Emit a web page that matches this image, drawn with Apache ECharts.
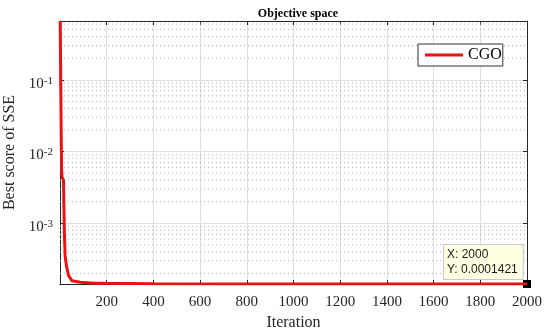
<!DOCTYPE html>
<html>
<head>
<meta charset="utf-8">
<script src="https://cdn.jsdelivr.net/npm/echarts@6/dist/echarts.min.js"></script>
<style>html,body{margin:0;padding:0;background:#fff}#c{width:550px;height:331px}</style>
</head>
<body>
<div id="c"></div>
<script>
// Data (iteration, best score)
const iterations = [1, 2, 3, 4, 5, 6, 7, 9, 14, 15, 17, 19, 22, 28, 37, 51, 87, 150, 201, 400, 800, 2000];
const bestScore = [0.66, 0.25, 0.09, 0.05, 0.02, 0.01, 0.0055, 0.0043, 0.0041, 0.0040, 0.0015, 0.0007, 0.00035, 0.00025, 0.000185, 0.000158, 0.000150, 0.000146, 0.000145, 0.0001430, 0.0001422, 0.0001421];
const seriesName = 'CGO';
const xTicks = [200, 400, 600, 800, 1000, 1200, 1400, 1600, 1800, 2000];
const yMinorValues = [2e-4,3e-4,4e-4,5e-4,6e-4,7e-4,8e-4,9e-4,
  2e-3,3e-3,4e-3,5e-3,6e-3,7e-3,8e-3,9e-3,
  2e-2,3e-2,4e-2,5e-2,6e-2,7e-2,8e-2,9e-2,
  2e-1,3e-1,4e-1,5e-1,6e-1];
const xMin = 0, xMax = 2000;
const yMin = 0.0001421, yMax = 0.66;
const tipX = 2000, tipY = 0.0001421;

const serif = 'Liberation Serif, Times New Roman, serif';
const axisColor = '#262626';
const chart = echarts.init(document.getElementById('c'));
const data = iterations.map((x, i) => [x, bestScore[i]]);

function powLabel(v) {
  const e = Math.log10(v);
  if (Math.abs(e - Math.round(e)) > 1e-6) return '';
  return '{b|10}{s|' + Math.round(e) + '}';
}

const minorSeries = yMinorValues.map(v => ({
  type: 'line', silent: true, symbol: 'none', z: 1,
  data: [[xMin, v], [xMax, v]],
  lineStyle: { type: [1, 3], color: '#b4b4b4', width: 1 },
  emphasis: { disabled: true }
}));

chart.setOption({
  animation: false,
  backgroundColor: '#fff',
  title: {
    text: 'Objective space',
    left: 293, top: 3, textAlign: 'center',
    textStyle: { fontFamily: serif, fontWeight: 'bold', fontSize: 12, color: '#000' }
  },
  legend: {
    left: 418, top: 44,
    padding: [3, 1, 3, 7],
    itemWidth: 38, itemHeight: 3, icon: 'rect',
    backgroundColor: '#fff',
    borderColor: '#333', borderWidth: 1,
    textStyle: { fontFamily: serif, fontSize: 16, color: '#000' },
    data: [seriesName]
  },
  grid: { left: 60, right: 23, top: 21, bottom: 47, containLabel: false, outerBoundsMode: 'none' },
  xAxis: [{
    type: 'value', min: xMin, max: xMax, interval: 200,
    name: 'Iteration', nameLocation: 'middle', nameGap: 30,
    nameTextStyle: { fontFamily: serif, fontSize: 16, color: axisColor },
    axisLine: { show: true, onZero: false, lineStyle: { color: axisColor, width: 1 } },
    axisTick: { show: true, inside: true, length: 4, lineStyle: { color: axisColor } },
    axisLabel: {
      margin: 11, fontFamily: serif, fontSize: 15, color: axisColor,
      formatter: v => xTicks.indexOf(v) >= 0 ? String(v) : ''
    },
    splitLine: { show: true, lineStyle: { color: '#dedede', width: 1 } }
  }, {
    type: 'value', min: xMin, max: xMax, interval: 200, position: 'top',
    axisLine: { show: true, onZero: false, lineStyle: { color: axisColor, width: 1 } },
    axisTick: { show: true, inside: true, length: 4, lineStyle: { color: axisColor } },
    axisLabel: { show: false },
    splitLine: { show: false }
  }],
  yAxis: [{
    type: 'log', logBase: 10, min: yMin, max: yMax,
    name: 'Best score of SSE', nameLocation: 'middle', nameGap: 39,
    nameTextStyle: { fontFamily: serif, fontSize: 16, color: axisColor },
    axisLine: { show: true, onZero: false, lineStyle: { color: axisColor, width: 1 } },
    axisTick: { show: true, inside: true, length: 4, lineStyle: { color: axisColor } },
    axisLabel: {
      margin: 7, showMinLabel: false, showMaxLabel: false,
      formatter: powLabel,
      rich: {
        b: { fontFamily: serif, fontSize: 15, color: axisColor, verticalAlign: 'bottom', padding: [8, 0, 0, 0] },
        s: { fontFamily: serif, fontSize: 11, color: axisColor, verticalAlign: 'bottom', padding: [0, 0, 5, 0] }
      }
    },
    splitLine: { show: true, lineStyle: { color: '#dedede', width: 1 } }
  }, {
    type: 'log', logBase: 10, min: yMin, max: yMax, position: 'right',
    axisLine: { show: true, onZero: false, lineStyle: { color: axisColor, width: 1 } },
    axisTick: { show: true, inside: true, length: 4, lineStyle: { color: axisColor } },
    axisLabel: { show: false },
    splitLine: { show: false }
  }],
  series: minorSeries.concat([{
    name: seriesName,
    type: 'line',
    data: data,
    showSymbol: false, symbol: 'none',
    lineStyle: { color: '#ee1111', width: 3 },
    itemStyle: { color: '#ee1111' },
    z: 5,
    markPoint: {
      silent: true,
      symbol: 'rect', symbolSize: 8,
      itemStyle: { color: '#000' },
      data: [{ coord: [tipX, tipY] }],
      label: {
        show: true,
        position: [-79, -35],
        formatter: 'X: ' + tipX + '\nY: ' + tipY.toFixed(7),
        fontFamily: 'Liberation Sans, Arial, sans-serif',
        fontSize: 12, lineHeight: 15, color: '#1a1a1a',
        align: 'left', verticalAlign: 'top',
        backgroundColor: '#ffffe1',
        borderColor: '#c8c8c8', borderWidth: 1,
        padding: [2, 5, 2, 3]
      }
    }
  }])
});
</script>
</body>
</html>
